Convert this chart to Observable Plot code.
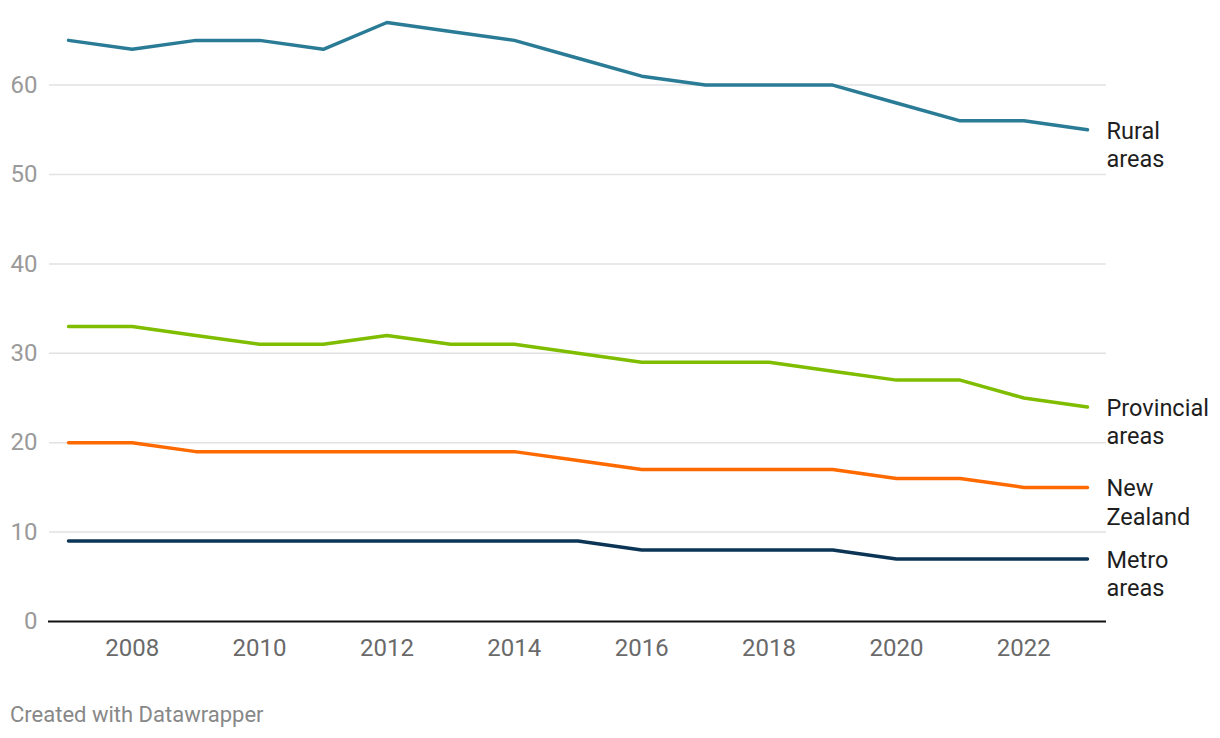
<!DOCTYPE html>
<html>
<head>
<meta charset="utf-8">
<script src="https://cdn.jsdelivr.net/npm/d3@7"></script>
<script src="https://cdn.jsdelivr.net/npm/@observablehq/plot@0.6"></script>
<style>
  html, body { margin: 0; padding: 0; background: #fff; }
  body { width: 1220px; height: 738px; overflow: hidden; font-family: Roboto, sans-serif; }
  #footer { margin-top: 22px; padding-left: 10px; font-size: 22px; line-height: 26px; color: #888; }
</style>
</head>
<body>
<div id="chart"></div>
<div id="footer">Created with Datawrapper</div>
<script>
const years = [2007,2008,2009,2010,2011,2012,2013,2014,2015,2016,2017,2018,2019,2020,2021,2022,2023];
const rural      = [65,64,65,65,64,67,66,65,63,61,60,60,60,58,56,56,55];
const provincial = [33,33,32,31,31,32,31,31,30,29,29,29,28,27,27,25,24];
const newZealand = [20,20,19,19,19,19,19,19,18,17,17,17,17,16,16,15,15];
const metro      = [9,9,9,9,9,9,9,9,9,8,8,8,8,7,7,7,7];
const seriesNames  = ["Rural areas", "Provincial areas", "New Zealand", "Metro areas"];
const seriesLabels = ["Rural\nareas", "Provincial\nareas", "New\nZealand", "Metro\nareas"];
const seriesColors = ["#2a7b96", "#7fbd00", "#ff6a00", "#0b3455"];
const yTicks = [0,10,20,30,40,50,60];
const xTicks = [2008,2010,2012,2014,2016,2018,2020,2022];

const seriesValues = [rural, provincial, newZealand, metro];
const data = [];
seriesNames.forEach((name, i) => {
  years.forEach((yr, j) => data.push({series: name, year: yr, value: seriesValues[i][j]}));
});
const lastPoints = seriesNames.map((name, i) => ({
  series: name, label: seriesLabels[i], year: years[years.length - 1],
  value: seriesValues[i][years.length - 1]
}));

const chart = Plot.plot({
  width: 1220,
  height: 680,
  marginTop: 22,
  marginBottom: 59,
  marginLeft: 68,
  marginRight: 133,
  style: {fontFamily: "Roboto, sans-serif", background: "#fff", overflow: "visible"},
  x: {domain: [2007, 2023]},
  y: {domain: [0, 67]},
  color: {domain: seriesNames, range: seriesColors},
  marks: [
    Plot.ruleY(yTicks.filter(d => d > 0), {stroke: "#e2e2e2", strokeWidth: 1.5, insetLeft: -19, insetRight: -19}),
    Plot.axisY({ticks: yTicks, tickSize: 0, tickPadding: 31, fontSize: 24, color: "#9a9a9a", label: null, tickFormat: d => d}),
    Plot.axisX({ticks: xTicks, tickSize: 0, tickPadding: 17, fontSize: 24, color: "#6a6a6a", label: null, tickFormat: d => String(d)}),
    Plot.line(data, {x: "year", y: "value", z: "series", stroke: "series", strokeWidth: 3.5, strokeLinejoin: "round", strokeLinecap: "round"}),
    Plot.ruleY([0], {stroke: "#111", strokeWidth: 2, insetLeft: -20, insetRight: -19}),
    Plot.text(lastPoints, {x: "year", y: "value", text: "label", textAnchor: "start", lineAnchor: "middle", dx: 19, dy: 14, fontSize: 23.5, lineHeight: 1.22, fill: "#1e1e1e"})
  ]
});
document.getElementById("chart").appendChild(chart);
</script>
</body>
</html>
